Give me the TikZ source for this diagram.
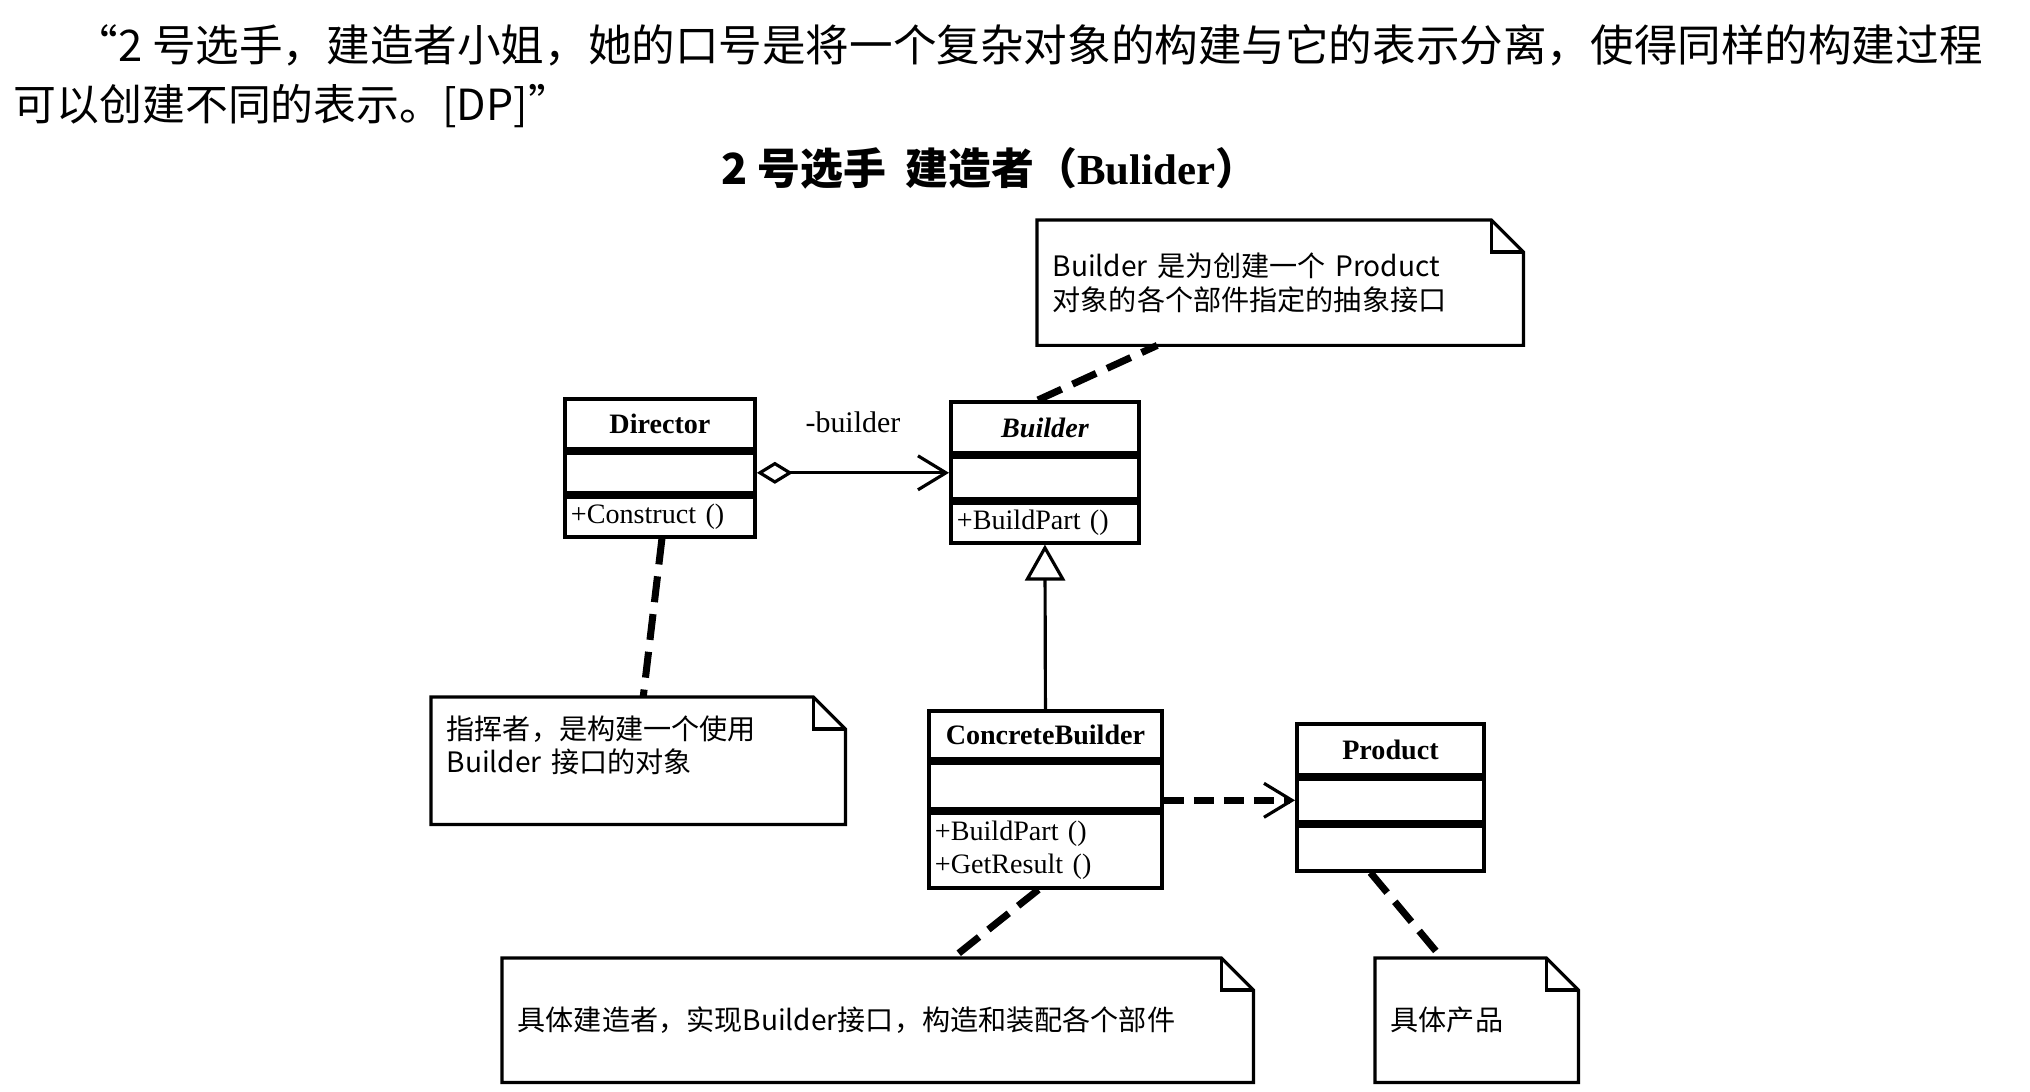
\documentclass[tikz,border=0pt]{standalone}
\usepackage{fontspec}
\setmainfont{Liberation Serif}
\newfontfamily\cjk{Noto Sans CJK SC}
\usetikzlibrary{arrows.meta, positioning}
\tikzset{
  cname/.style={draw, line width=1.1pt, font=\bfseries\fontsize{8}{10}\selectfont,
    inner sep=0pt, anchor=north west},
  cpart/.style={draw, line width=1.1pt, font=\fontsize{8}{10}\selectfont, inner sep=0pt},
  cops/.style={draw, line width=1.1pt, font=\fontsize{8}{9.5}\selectfont,
    inner xsep=0.06cm, inner ysep=0pt, align=left},
  umlnote/.style={anchor=north west, inner xsep=0.15cm, inner ysep=0pt, align=left,
    font=\cjk\fontsize{8}{9.5}\selectfont},
  notelink/.style={line width=2pt, dash pattern=on 0.26cm off 0.12cm},
  ar/.style={line width=0.9pt},
  lb/.style={font=\fontsize{8.5}{10}\selectfont, inner sep=0pt},
  headtxt/.style={font=\cjk\fontsize{12.2}{14}\selectfont, inner sep=0pt},
}
\newcommand{\NoteBox}[1]{%
  \draw[line width=0.9pt] (#1.north west) -- ([xshift=-0.32cm]#1.north east)
    -- ([yshift=-0.32cm]#1.north east) -- (#1.south east) -- (#1.south west) -- cycle;
  \draw[line width=0.9pt] ([xshift=-0.32cm]#1.north east) |- ([yshift=-0.32cm]#1.north east);
}

\begin{document}
\begin{tikzpicture}

\fill[white] (0,0) rectangle (20.3,-10.91);
\useasboundingbox (0,0) rectangle (20.3,-10.91);

% heading
\node[headtxt, anchor=west, font=\cjk\fontsize{12.4}{14}\selectfont] (line1) at (0.74,-0.45) {“2 号选手，建造者小姐，她的口号是将一个复杂对象的构建与它的表示分离，使得同样的构建过程};
\node[headtxt, anchor=west] (line2) at (0.13,-1.06) {可以创建不同的表示。[DP]”};
\node[headtxt] (title) at (9.90,-1.68) {{\bfseries 2 号选手\ \ 建造者（}{\rmfamily\bfseries Bulider}{\bfseries ）}};

% classes
\node[cname, minimum width=1.9cm, minimum height=0.5cm] (Dname) at (5.63,-3.97) {Director};
\node[cpart, minimum width=1.9cm, minimum height=0.4cm, below=0pt of Dname] (Dattr) {};
\node[cops, text width=1.78cm, minimum height=0.4cm, below=0pt of Dattr] (Dops) {+Construct ()};

\node[cname, minimum width=1.88cm, minimum height=0.51cm] (Bname) at (9.49,-4.00) {\itshape Builder};
\node[cpart, minimum width=1.88cm, minimum height=0.42cm, below=0pt of Bname] (Battr) {};
\node[cops, text width=1.76cm, minimum height=0.4cm, below=0pt of Battr] (Bops) {+BuildPart ()};

\node[cname, minimum width=2.33cm, minimum height=0.48cm] (CBname) at (9.27,-7.09) {ConcreteBuilder};
\node[cpart, minimum width=2.33cm, minimum height=0.46cm, below=0pt of CBname] (CBattr) {};
\node[cops, text width=2.21cm, minimum height=0.75cm, below=0pt of CBattr] (CBops) {+BuildPart ()\\+GetResult ()};

\node[cname, minimum width=1.87cm, minimum height=0.51cm] (Pname) at (12.95,-7.22) {Product};
\node[cpart, minimum width=1.87cm, minimum height=0.43cm, below=0pt of Pname] (Pattr) {};
\node[cpart, minimum width=1.87cm, minimum height=0.45cm, below=0pt of Pattr] (Pops) {};

% notes
\node[umlnote, text width=4.55cm, minimum height=1.24cm] (N1) at (10.37,-2.20)
  {Builder 是为创建一个 Product\\对象的各个部件指定的抽象接口};
\node[umlnote, text width=3.83cm, minimum height=1.26cm] (ND) at (4.31,-6.97)
  {指挥者，是构建一个使用\\Builder 接口的对象\\\mbox{}};
\node[umlnote, text width=7.20cm, minimum height=1.23cm] (NC) at (5.02,-9.58)
  {具体建造者，实现Builder接口，构造和装配各个部件};
\node[umlnote, text width=1.72cm, minimum height=1.23cm] (NP) at (13.75,-9.58)
  {具体产品};
\NoteBox{N1}
\NoteBox{ND}
\NoteBox{NC}
\NoteBox{NP}

% relations
\draw[ar, {Diamond[open, length=0.36cm, width=0.22cm]}-{Straight Barb[length=0.28cm, width=0.34cm]}]
  (Dattr.east) -- node[lb, midway, above=0.38cm] (agglbl) {-builder} (Dattr.east -| Battr.west);
\draw[ar, -{Triangle[open, fill=white, length=0.36cm, width=0.4cm]}] (CBname.north) -- (Bops.south);
\draw[line width=2pt, dash pattern=on 0.2cm off 0.1cm, -{Straight Barb[length=0.28cm, width=0.34cm, line width=0.9pt]}]
  (Pattr.west -| CBattr.east) -- (Pattr.west);

% note links
\draw[notelink] ([xshift=-0.07cm]Bname.north) -- ([xshift=-1.23cm]N1.south);
\draw[notelink] ([xshift=0.02cm]Dops.south) -- ([xshift=0.05cm]ND.north);
\draw[notelink] ([xshift=-0.07cm]CBops.south) -- ([xshift=0.75cm]NC.north);
\draw[notelink] ([xshift=-0.2cm]Pops.south) -- ([xshift=-0.35cm]NP.north);

\end{tikzpicture}
\end{document}
